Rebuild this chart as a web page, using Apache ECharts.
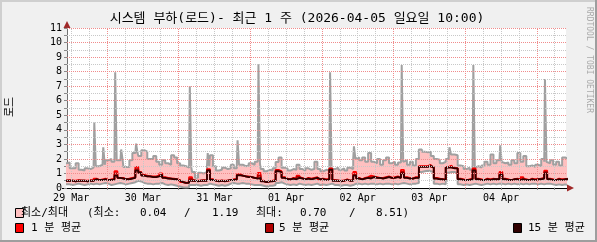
<!DOCTYPE html>
<html><head><meta charset="utf-8">
<script src="https://cdn.jsdelivr.net/npm/echarts@6/dist/echarts.min.js"></script>
<style>html,body{margin:0;padding:0;background:#f0f0f0}#c{width:597px;height:242px}</style>
</head><body><div id="c"></div>
<script>
// hours since 2026-03-29 00:00; one value per hour starting at startHour
const startHour = 10;
const xMin = 10.6, xMax = 177.8;
const dayLabels = ['29 Mar','30 Mar','31 Mar','01 Apr','02 Apr','03 Apr','04 Apr'];
const labelHours = [12, 36, 60, 84, 108, 132, 156];
const yTicks = [0,1,2,3,4,5,6,7,8,9,10,11];

// hourly maximum (spikes listed separately below)
const maxLoad = [
1.7,1.75,1.35,1.35,1.7,1.25,1.2,1.35,1.3,1.4,
1.5,1.5,1.6,1.6,1.9,2.0,1.8,1.9,1.9,1.9,
1.45,1.45,1.9,2.4,2.4,2.2,2.6,2.5,2.0,2.0,
2.2,1.8,1.6,1.9,1.7,1.6,2.25,2.1,1.7,1.55,
1.5,1.4,1.4,1.1,0.7,1.05,1.0,1.1,1.5,2.25,
1.5,1.2,1.25,1.4,1.3,1.35,1.6,1.35,1.6,1.6,
1.5,1.55,1.7,1.6,1.8,1.7,1.3,1.15,1.25,1.2,
1.35,1.79,2.1,1.4,1.35,1.2,1.3,1.25,1.6,1.3,
1.2,1.35,1.25,1.3,1.8,1.3,1.15,1.25,1.2,1.3,
1.3,1.4,1.25,1.35,1.2,1.4,1.3,2.0,2.1,1.9,
2.1,1.8,2.4,1.8,1.7,2.0,1.6,1.9,2.1,1.7,
1.8,1.6,1.75,1.8,1.9,1.6,1.8,1.55,2.0,2.65,
2.5,2.45,2.5,2.2,2.0,1.95,1.7,1.8,2.0,2.3,
2.3,2.25,1.55,1.5,1.3,1.4,1.25,1.4,1.5,1.4,
1.55,1.8,1.6,2.3,1.7,1.9,1.8,1.7,1.75,1.6,
1.9,1.7,2.4,1.8,2.2,1.5,1.55,1.45,1.6,1.5,
2.0,1.8,1.7,1.9,1.6,1.8,1.55,2.1,2.0];
// short peaks of the maximum: [hour, value]
const maxSpikes = [[20,4.5],[23,2.8],[27,7.96],[29,2.65],[34,3.05],[52,7.0],[58,2.4],[68,3.28],
  [75,8.51],[99,7.96],[107,2.86],[123,8.45],[139,2.8],[147,8.45],[156,2.93],[171,7.5]];

const minLoad = [
0.25,0.25,0.2,0.25,0.3,0.25,0.2,0.25,0.3,0.25,
0.3,0.25,0.3,0.35,0.3,0.2,0.25,0.3,0.35,0.3,
0.25,0.3,0.35,0.4,0.5,0.45,0.35,0.3,0.3,0.25,
0.3,0.3,0.35,0.25,0.2,0.25,0.2,0.15,0.1,0.05,
0.04,0.05,0.2,0.2,0.2,0.15,0.2,0.2,0.3,0.25,
0.2,0.15,0.2,0.15,0.2,0.3,0.35,0.3,0.3,0.35,
0.3,0.3,0.25,0.2,0.2,0.2,0.15,0.1,0.15,0.15,
0.2,0.35,0.4,0.3,0.25,0.2,0.25,0.2,0.3,0.25,
0.2,0.25,0.2,0.25,0.3,0.2,0.25,0.2,0.25,0.3,
0.2,0.2,0.15,0.2,0.2,0.15,0.2,0.3,0.3,0.25,
0.3,0.25,0.3,0.3,0.25,0.3,0.25,0.3,0.3,0.25,
0.3,0.25,0.3,0.35,0.3,0.25,0.3,0.3,0.35,1.1,
1.15,1.19,1.15,1.1,0.3,0.25,0.3,0.25,1.05,1.1,
1.1,1.0,0.25,0.2,0.25,0.2,0.25,0.3,0.25,0.2,
0.25,0.3,0.25,0.3,0.25,0.3,0.3,0.25,0.3,0.25,
0.3,0.25,0.3,0.25,0.3,0.25,0.3,0.3,0.25,0.3,
0.25,0.3,0.3,0.25,0.2,0.25,0.2,0.25,0.2];

const avg1 = [
0.5,0.55,0.5,0.5,0.55,0.5,0.5,0.5,0.55,0.5,
0.65,0.55,0.6,0.65,0.55,0.6,0.6,1.15,0.7,0.7,
0.6,0.65,0.7,0.75,1.45,1.1,0.9,0.85,0.8,0.8,
0.8,0.85,1.0,0.75,0.7,0.65,0.65,0.6,0.55,0.4,
0.35,0.4,0.75,0.5,0.5,0.5,0.55,0.5,1.3,0.6,
0.5,0.5,0.5,0.5,0.5,0.55,0.6,0.6,0.95,0.85,
0.8,0.8,0.75,0.7,0.7,1.03,0.5,0.4,0.45,0.5,
0.55,1.25,1.15,0.75,0.65,0.6,0.7,0.65,0.85,0.7,
0.6,0.7,0.65,0.7,0.75,0.6,0.65,0.6,0.6,1.35,
0.55,0.5,0.5,0.5,0.6,0.5,0.55,1.1,0.7,0.6,
0.7,0.75,0.85,0.8,0.75,0.7,0.7,0.75,0.8,0.7,
0.75,0.8,0.7,1.25,0.75,0.7,0.65,0.75,0.75,1.5,
1.5,1.5,1.6,1.45,0.7,0.65,0.6,0.6,1.45,1.55,
1.4,1.35,0.65,0.6,0.55,0.6,0.65,1.35,0.65,0.6,
0.55,0.65,0.6,0.65,0.6,0.65,1.1,0.65,0.6,0.55,
0.6,0.65,0.6,0.75,0.6,0.55,0.65,0.6,0.6,0.65,
0.7,1.2,0.65,0.6,0.55,0.65,0.6,0.6,0.65];

const avg5 = [
0.5,0.5,0.5,0.45,0.5,0.5,0.5,0.45,0.5,0.5,
0.62,0.55,0.55,0.62,0.55,0.55,0.6,1.0,0.7,0.67,
0.6,0.62,0.67,0.72,1.3,1.07,0.87,0.8,0.8,0.77,
0.77,0.82,0.95,0.72,0.67,0.65,0.62,0.6,0.52,0.4,
0.35,0.37,0.62,0.5,0.47,0.5,0.52,0.5,1.25,0.57,
0.5,0.47,0.5,0.47,0.5,0.55,0.57,0.6,0.9,0.85,
0.8,0.77,0.75,0.7,0.67,0.85,0.47,0.4,0.45,0.47,
0.52,1.2,1.12,0.72,0.62,0.6,0.67,0.62,0.77,0.67,
0.6,0.67,0.62,0.67,0.72,0.6,0.62,0.57,0.6,1.3,
0.52,0.5,0.47,0.5,0.57,0.5,0.52,0.95,0.67,0.6,
0.67,0.72,0.75,0.77,0.72,0.7,0.67,0.72,0.77,0.7,
0.72,0.77,0.7,1.1,0.72,0.67,0.65,0.72,0.72,1.47,
1.47,1.47,1.55,1.42,0.67,0.62,0.6,0.57,1.42,1.47,
1.37,1.35,0.62,0.57,0.55,0.57,0.62,1.27,0.62,0.57,
0.55,0.62,0.57,0.62,0.6,0.62,1.0,0.62,0.57,0.55,
0.6,0.62,0.57,0.67,0.57,0.55,0.62,0.57,0.6,0.62,
0.67,1.1,0.62,0.57,0.55,0.62,0.57,0.6,0.62];

const avg15 = [
0.5,0.5,0.5,0.45,0.5,0.5,0.5,0.45,0.5,0.5,
0.6,0.55,0.55,0.6,0.55,0.55,0.6,0.85,0.7,0.65,
0.6,0.6,0.65,0.7,1.2,1.05,0.85,0.8,0.8,0.75,
0.75,0.8,0.9,0.7,0.65,0.65,0.6,0.6,0.5,0.4,
0.35,0.35,0.5,0.5,0.45,0.5,0.5,0.5,1.2,0.55,
0.5,0.45,0.5,0.45,0.5,0.55,0.55,0.6,0.87,0.85,
0.8,0.75,0.75,0.7,0.65,0.7,0.45,0.4,0.45,0.45,
0.5,1.15,1.1,0.7,0.6,0.6,0.65,0.6,0.7,0.65,
0.6,0.65,0.6,0.65,0.7,0.6,0.6,0.55,0.6,1.25,
0.5,0.5,0.45,0.5,0.55,0.5,0.5,0.85,0.65,0.6,
0.65,0.7,0.65,0.75,0.7,0.7,0.65,0.7,0.75,0.7,
0.7,0.75,0.7,1.0,0.7,0.65,0.65,0.7,0.7,1.45,
1.45,1.45,1.5,1.4,0.65,0.6,0.6,0.55,1.4,1.4,
1.35,1.35,0.6,0.55,0.55,0.55,0.6,1.2,0.6,0.55,
0.55,0.6,0.55,0.6,0.6,0.6,0.9,0.6,0.55,0.55,
0.6,0.6,0.55,0.6,0.55,0.55,0.6,0.55,0.6,0.6,
0.65,1.0,0.6,0.55,0.55,0.6,0.55,0.6,0.6];

const PINK='#ffc0c0', RED='#ff0000', DRED='#b00000', DDRED='#300000', GRAYL='#a0a0a0';
const GRID_GRAY='#c8c8c8', GRID_RED='#f08c8c';
const MONO="'DejaVu Sans Mono','Noto Sans CJK KR'";
const SPIKE_HALF = 0.25; // half width (hours) of a short peak

// build step-shaped point lists (each hourly value covers [h-0.5, h+0.5])
function stepPts(values, spikes) {
  const sp = {};
  (spikes||[]).forEach(([h,v]) => sp[h] = v);
  const out = [];
  values.forEach((v, i) => {
    const h = startHour + i;
    if (sp[h] !== undefined) {
      out.push([h-0.5, v], [h-SPIKE_HALF, v], [h-SPIKE_HALF, sp[h]], [h+SPIKE_HALF, sp[h]], [h+SPIKE_HALF, v], [h+0.5, v]);
    } else {
      out.push([h-0.5, v], [h+0.5, v]);
    }
  });
  return out;
}

const gridLines = [];
for (let h = 12; h <= xMax; h += 6) gridLines.push({xAxis:h, lineStyle:{color: h%24===0?GRID_RED:GRID_GRAY}});
for (let v = 0.5; v <= 11; v += 0.5) gridLines.push({yAxis:v, lineStyle:{color: Number.isInteger(v)?GRID_RED:GRID_GRAY}});
const tick6 = [];
for (let h = 12; h <= xMax; h += 6) tick6.push(h);

const lineS = (name, data, color, width, area) => ({
  name, type:'line', data, symbol:'none', silent:true, clip:true,
  lineStyle: width ? {color, width} : {opacity:0}, itemStyle:{color},
  areaStyle: area ? {color:area, opacity:1, origin:'start'} : undefined
});

const allMax = maxLoad.concat(maxSpikes.map(s=>s[1]));
const stats = [Math.min(...minLoad), Math.max(...minLoad), Math.min(...maxLoad), Math.max(...allMax)].map(v=>v.toFixed(2));

const txt = (text, x, y, extra) => Object.assign({type:'text', x, y, silent:true,
  style:{text, fill:'#000', font:'11px '+MONO, verticalAlign:'middle', align:'left'}}, extra||{});
const box = (x, y, color) => ({type:'rect', shape:{x, y, width:8, height:9}, silent:true,
  style:{fill:color, stroke:'#000', lineWidth:1}});

const maxPts = stepPts(maxLoad, maxSpikes);
const minPts = stepPts(minLoad);

const chart = echarts.init(document.getElementById('c'), null, {renderer:'canvas'});
chart.setOption({
  animation:false,
  backgroundColor:'#f0f0f0',
  grid:{left:67, top:28, width:499, height:160, show:true, backgroundColor:'#fff', borderWidth:0},
  xAxis:{type:'value', min:xMin, max:xMax,
    axisLine:{show:true, onZero:false, lineStyle:{color:'#000', width:1}},
    axisTick:{show:true, customValues:tick6, length:2, lineStyle:{color:'#888'}},
    axisLabel:{show:true, customValues:labelHours, margin:5, color:'#000', fontSize:10, fontFamily:MONO,
      formatter:v=>dayLabels[labelHours.indexOf(Math.round(v))] || ''},
    splitLine:{show:false}},
  yAxis:{type:'value', min:0, max:11, interval:1,
    axisLine:{show:true, lineStyle:{color:'#707070', width:1}},
    axisTick:{show:true, length:3, lineStyle:{color:'#888'}},
    minorTick:{show:true, splitNumber:2, length:3, lineStyle:{color:'#888'}},
    axisLabel:{margin:5, color:'#000', fontSize:10, fontFamily:MONO, formatter:v=>yTicks.includes(v)?String(v):''},
    splitLine:{show:false}},
  series:[
    lineS('maxArea', maxPts, PINK, 0, PINK),
    lineS('minArea', minPts, '#fff', 0, '#ffffff'),
    {type:'line', data:[[xMin,0]], symbol:'none', silent:true, lineStyle:{opacity:0},
      markLine:{silent:true, symbol:'none', label:{show:false}, animation:false,
        lineStyle:{type:[1,1], width:1}, data:gridLines}},
    lineS('max', maxPts, GRAYL, 2),
    lineS('min', minPts, GRAYL, 2),
    lineS('1분', stepPts(avg1), RED, 1.8),
    lineS('5분', stepPts(avg5), DRED, 1.8),
    lineS('15분', stepPts(avg15), DDRED, 1.8)
  ],
  graphic:[
    {type:'rect', shape:{x:0,y:0,width:597,height:2}, style:{fill:'#cfcfcf'}, silent:true},
    {type:'rect', shape:{x:0,y:0,width:2,height:242}, style:{fill:'#cfcfcf'}, silent:true},
    {type:'rect', shape:{x:0,y:240,width:597,height:2}, style:{fill:'#9e9e9e'}, silent:true},
    {type:'rect', shape:{x:595,y:0,width:2,height:242}, style:{fill:'#9e9e9e'}, silent:true},
    {type:'polygon', shape:{points:[[67,21],[63.5,28],[70.5,28]]}, style:{fill:'#a02828'}, silent:true},
    {type:'polygon', shape:{points:[[574,188],[567,184.5],[567,191.5]]}, style:{fill:'#a02828'}, silent:true},
    {type:'line', shape:{x1:62,y1:188.5,x2:567,y2:188.5}, style:{stroke:'#000', lineWidth:1}, silent:true},
    txt('', 297, 19, {style:{text:'시스템 부하(로드)- 최근 1 주 (2026-04-05 일요일 10:00)', fill:'#000', font:'13px '+MONO, align:'center', verticalAlign:'middle'}}),
    txt('', 10, 107, {rotation:Math.PI/2, style:{text:'로드', fill:'#000', font:'11px '+MONO, align:'center', verticalAlign:'middle'}}),
    txt('', 589, 60, {rotation:-Math.PI/2, style:{text:'RRDTOOL / TOBI OETIKER', fill:'#aaaaaa', font:'8px '+MONO, align:'center', verticalAlign:'middle'}}),
    box(15.5, 208.5, PINK),
    txt('최소/최대', 21, 213.5),
    txt('(최소:', 87, 213.5),
    txt(stats[0], 140, 213.5),
    txt('/', 184, 213.5),
    txt(stats[1], 212, 213.5),
    txt('최대:', 256, 213.5),
    txt(stats[2], 300, 213.5),
    txt('/', 349, 213.5),
    txt(stats[3] + ')', 376, 213.5),
    box(15.5, 223.5, RED),
    txt('1 분 평균', 31, 228),
    box(265.5, 223.5, DRED),
    txt('5 분 평균', 279, 228),
    box(513.5, 223.5, DDRED),
    txt('15 분 평균', 528, 228)
  ]
});
</script></body></html>
